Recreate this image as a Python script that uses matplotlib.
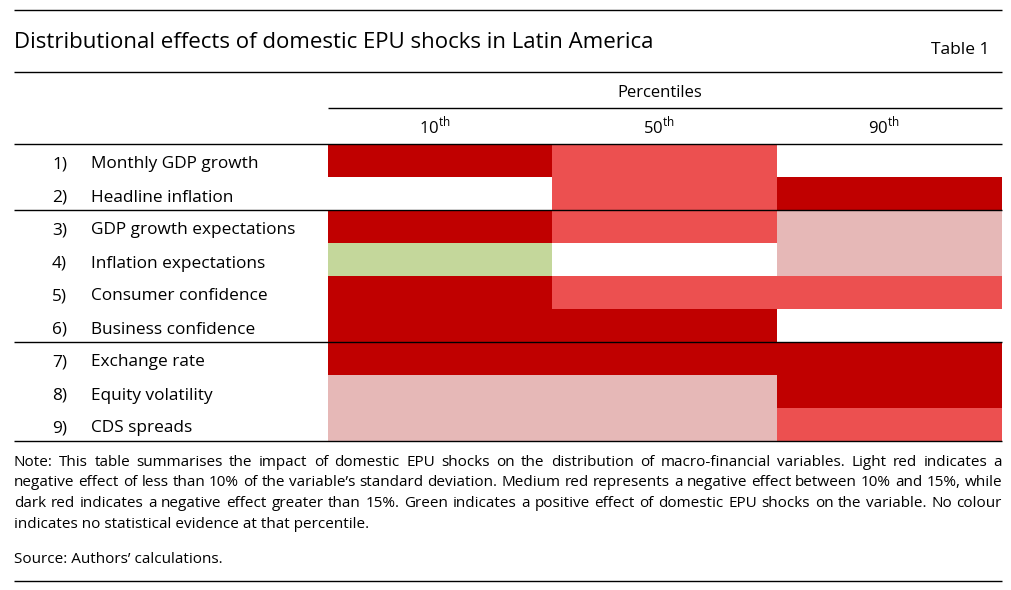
import numpy as np
import matplotlib
matplotlib.use('Agg')
import matplotlib.pyplot as plt
from matplotlib.colors import ListedColormap

plt.rcParams['font.family'] = ['Open Sans', 'DejaVu Sans']
plt.rcParams['mathtext.fontset'] = 'custom'
plt.rcParams['mathtext.rm'] = 'Open Sans'

title = 'Distributional effects of domestic EPU shocks in Latin America'
table_no = 'Table 1'
percentiles = ['10', '50', '90']
variables = ['Monthly GDP growth', 'Headline inflation', 'GDP growth expectations',
             'Inflation expectations', 'Consumer confidence', 'Business confidence',
             'Exchange rate', 'Equity volatility', 'CDS spreads']
group_breaks = [2, 6]  # line drawn after these rows

# effect codes: -1 green (positive), 0 none, 1 light red, 2 medium red, 3 dark red
p10 = [3, 0, 3, -1, 3, 3, 3, 1, 1]
p50 = [2, 2, 2, 0, 2, 3, 3, 1, 1]
p90 = [0, 3, 1, 1, 2, 0, 3, 3, 2]

effect_colors = ['#C4D79B', '#FFFFFF', '#E6B8B7', '#EC5050', '#C00000']

note_lines = [
    'Note: This table summarises the impact of domestic EPU shocks on the distribution of macro-financial variables. Light red indicates a',
    'negative effect of less than 10% of the variable\u2019s standard deviation. Medium red represents a negative effect between 10% and 15%, while',
    'dark red indicates a negative effect greater than 15%. Green indicates a positive effect of domestic EPU shocks on the variable. No colour',
    'indicates no statistical evidence at that percentile.',
]
source = 'Source: Authors\u2019 calculations.'

W, H = 1012, 590
fig = plt.figure(figsize=(W / 100, H / 100), dpi=100)
ax = fig.add_axes([0, 0, 1, 1])
ax.set_xlim(0, W)
ax.set_ylim(H, 0)
ax.axis('off')

left, right = 14, 1002
grid_left = 328
grid_top, row_h = 144, 33
n_rows = len(variables)
grid_bottom = grid_top + row_h * n_rows
col_w = (right - grid_left) / len(percentiles)

# cells
mat = np.array([p10, p50, p90]).T + 1
ax.imshow(mat, cmap=ListedColormap(effect_colors), vmin=-0.5, vmax=4.5,
          extent=(grid_left, right, grid_bottom, grid_top), aspect='auto',
          interpolation='nearest', zorder=1)

# rules
def rule(y, x0=left, x1=right):
    ax.plot([x0, x1], [y, y], color='black', lw=1.0, zorder=3, solid_capstyle='butt')

rule(10)
rule(72)
rule(108, grid_left)
rule(grid_top)
for b in group_breaks:
    rule(grid_top + b * row_h)
rule(grid_bottom)
rule(581)

# header
ax.text(left, 48, title, fontsize=16, va='baseline', ha='left')
ax.text(990, 54, table_no, fontsize=12.5, va='baseline', ha='right')
ax.text(660, 97, 'Percentiles', fontsize=12, va='baseline', ha='center')
for i, p in enumerate(percentiles):
    ax.text(grid_left + col_w * (i + 0.5) - 6, 133, p + r'$^{\mathrm{th}}$', fontsize=12,
            va='baseline', ha='center')

# row labels
for i, v in enumerate(variables):
    y = grid_top + row_h * i + 24.5
    ax.text(67, y, f'{i + 1})', fontsize=12.4, va='baseline', ha='right')
    ax.text(91, y, v, fontsize=12.4, va='baseline', ha='left')

# note, justified
renderer = fig.canvas.get_renderer()
note_y = [466, 486.5, 507, 527.5]
note_fs = 11
for k, line in enumerate(note_lines):
    y = note_y[k]
    if k == len(note_lines) - 1:
        ax.text(left, y, line, fontsize=note_fs, va='baseline', ha='left')
        continue
    words = line.split(' ')
    objs = [ax.text(0, y, w, fontsize=note_fs, va='baseline', ha='left') for w in words]
    widths = [o.get_window_extent(renderer).width for o in objs]
    gap = (right - left - sum(widths)) / (len(words) - 1)
    x = left
    for o, wd in zip(objs, widths):
        o.set_x(x)
        x += wd + gap

ax.text(left, 563, source, fontsize=note_fs, va='baseline', ha='left')

fig.savefig('out.png', dpi=100)
